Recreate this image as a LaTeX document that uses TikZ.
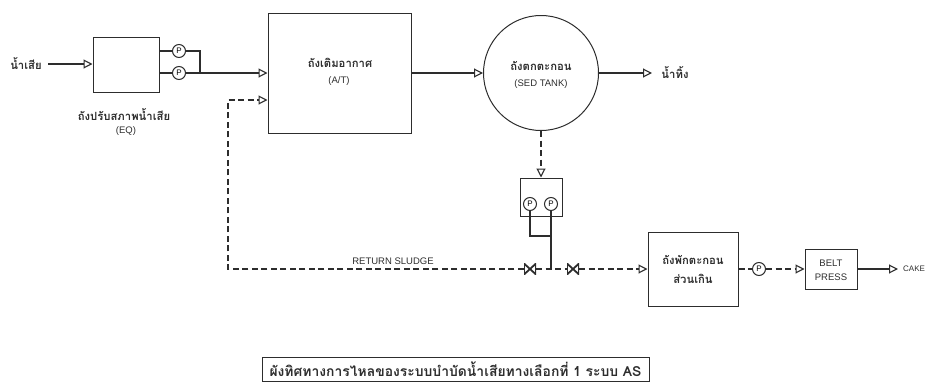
\documentclass[tikz,border=0pt]{standalone}
\usepackage{fontspec}
\usepackage{xcolor}
\setmainfont{Liberation Sans}
\newfontfamily\thaifont[Script=Thai]{Loma}
\usetikzlibrary{arrows.meta, positioning, calc}
\definecolor{inkgray}{RGB}{45, 45, 45}
\tikzset{
  tankbox/.style={draw=inkgray, line width=1pt, inner sep=0pt, minimum width=#1},
  pumpnode/.style={draw=inkgray, fill=white, circle, line width=1pt, minimum size=13pt, inner sep=0pt, font=\fontsize{8}{8}\selectfont},
  valvenode/.style={minimum width=12pt, minimum height=11pt, inner sep=0pt, fill=white,
    path picture={\draw[inkgray, line width=1.8pt] (path picture bounding box.north west) -- (path picture bounding box.south east) -- (path picture bounding box.north east) -- (path picture bounding box.south west) -- cycle;}},
  thainame/.style={inkgray, align=center, font=\fontsize{11.3}{19}\selectfont\thaifont\bfseries},
  latin/.style={inkgray, align=center, font=\fontsize{9.5}{14}\selectfont},
  flow/.style={inkgray, line width=1.4pt},
  sludge/.style={inkgray, line width=1.5pt, dash pattern=on 6pt off 3.5pt},
  tip/.style={-{Triangle[open, length=9pt, width=9pt, line width=1.1pt]}}
}
\begin{document}
\begin{tikzpicture}[x=1pt, y=-1pt]
  \useasboundingbox (0,0) rectangle (927,383);

  \node[tankbox=66pt, minimum height=55pt] (eq) at (126,64.5) {};
  \node[tankbox=143pt, minimum height=120pt] (at) at (339.5,73) {};
  \node[tankbox=115pt, circle] (sed) at (541,73) {};
  \node[tankbox=42pt, minimum height=38pt] (pumpbox) at (541,197) {};
  \node[tankbox=90pt, minimum height=74pt] (waste) at (693,269) {};
  \node[tankbox=52pt, minimum height=40pt] (belt) at (831,269) {};

  \node[thainame] (influent) at (26,64) {น้ำเสีย};
  \node[thainame] (eqname) at (124,115) {ถังปรับสภาพน้ำเสีย};
  \node[latin] (eqtag) at (126,131) {(EQ)};
  \node[thainame] (atname) at (340,63) {ถังเติมอากาศ};
  \node[latin] (attag) at (339,81) {(A/T)};
  \node[thainame] (sedname) at (541,66) {ถังตกตะกอน};
  \node[latin] (sedtag) at (541,84) {(SED TANK)};
  \node[thainame] (effluent) at (675,73) {น้ำทิ้ง};
  \node[thainame] (wastename) at (693,269) {ถังพักตะกอน\\ส่วนเกิน};
  \node[latin] (beltname) at (831,270) {BELT\\PRESS};
  \node[latin, anchor=west, inner sep=0pt, font=\fontsize{8}{10}\selectfont] (cake) at (903,269) {CAKE};
  \node[latin] (returnname) at (393,261) {RETURN SLUDGE};

  \coordinate (pumpjoin) at (200,73);
  \coordinate (pumptop) at (200,51);
  \coordinate (beltend) at (898,269);
  \coordinate (effend) at (652,73);
  \coordinate (influentend) at (48,64);
  \coordinate (returnin) at (228,100);
  \coordinate (returncorner) at (228,269);
  \coordinate (bottomjoin) at (530,236);
  \coordinate (bottomtee) at (551,236);
  \coordinate (linetee) at (551,269);

  \node[pumpnode] (pa) at (179,51) {P};
  \node[pumpnode] (pb) at (179,73) {P};
  \node[pumpnode] (pc) at (530,204) {P};
  \node[pumpnode] (pd) at (551,204) {P};
  \node[pumpnode] (pe) at (759,269) {P};
  \node[valvenode] (va) at (530,269) {};
  \node[valvenode] (vb) at (573,269) {};

  \draw[flow, tip] (influentend) -- (eq.west |- influentend);
  \draw[flow] (eq.east |- pa) -- (pa);
  \draw[flow] (eq.east |- pb) -- (pb);
  \draw[flow] (pa) -- (pumptop) -- (pumpjoin);
  \draw[flow, tip] (pb) -- (at.west |- pb);
  \draw[flow, tip] (at.east |- sed) -- (sed.west);
  \draw[flow, tip] (sed.east) -- (effend);
  \draw[flow] (pc) -- (bottomjoin) -- (bottomtee);
  \draw[flow] (pd) -- (linetee);
  \draw[flow, tip] (belt.east) -- (beltend);

  \draw[sludge, tip] (sed.south) -- (pumpbox.north);
  \draw[sludge, tip] (va) -- (returncorner) -- (returnin) -- (at.west |- returnin);
  \draw[sludge] (va) -- (vb);
  \draw[sludge, tip] (vb) -- (waste.west);
  \draw[sludge] (waste.east) -- (pe);
  \draw[sludge, tip] (pe) -- (belt.west);

  \node[draw=inkgray, line width=1pt, minimum width=387pt, minimum height=24pt, inner sep=0pt, font=\fontsize{13.9}{15}\selectfont\thaifont\bfseries, text=inkgray] (caption) at (455.5,369) {ผังทิศทางการไหลของระบบบำบัดน้ำเสียทางเลือกที่ 1 ระบบ AS};
\end{tikzpicture}
\end{document}
